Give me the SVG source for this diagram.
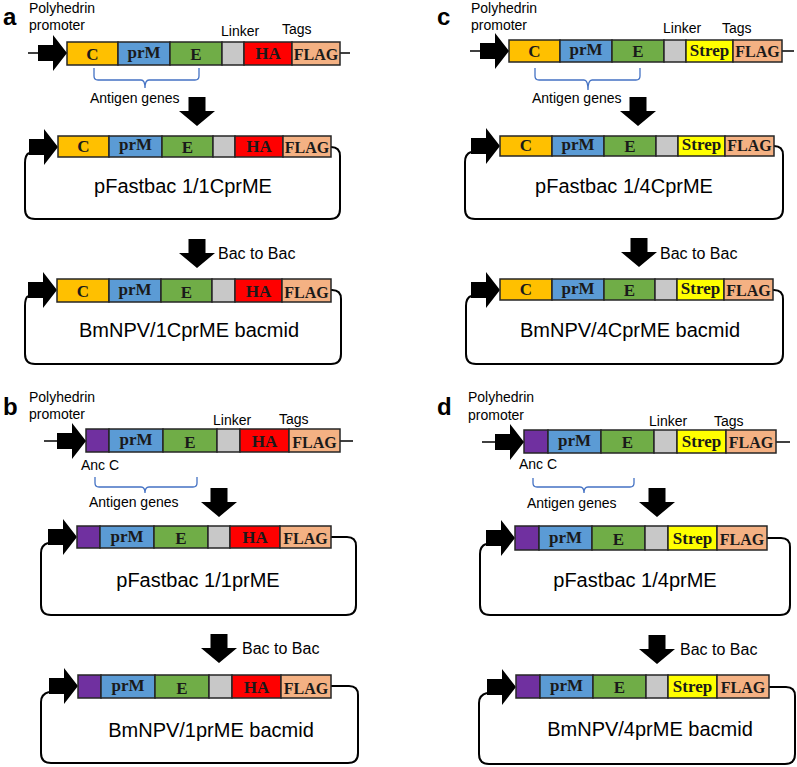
<svg xmlns="http://www.w3.org/2000/svg" xmlns:xlink="http://www.w3.org/1999/xlink" width="797" height="767" viewBox="0 0 797 767">
<style>
.c{fill:#FFC000}.pm{fill:#5B9BD5}.e{fill:#70AD47}.lk{fill:#C8C8C8}.ha{fill:#FF0000}.fl{fill:#F4B183}.st{fill:#FFFF00}.ac{fill:#7030A0}
.row rect{stroke:#262626;stroke-width:1.5}
.row text{font-family:"Liberation Serif","Times New Roman",serif;font-weight:bold;font-size:17px;fill:#1a1a1a;text-anchor:middle}
.row text.f{font-size:16px}
.lbl{font-family:"Liberation Sans",Arial,sans-serif;font-size:14px;fill:#000}
.big{font-size:20px;text-anchor:middle}
.pl{font-family:"Liberation Sans",Arial,sans-serif;font-weight:bold;font-size:24px;fill:#000}
.loop{fill:none;stroke:#000;stroke-width:2}
.brace{fill:none;stroke:#4472C4;stroke-width:1.3}
.dna{stroke:#000;stroke-width:1.5}
</style>
<defs>
<path id="prom" d="M-29 -8 H-14 V-18 L0 0 L-14 18 V8 H-29 Z" fill="#000"/>
<path id="down" d="M-8.5 -29 H8.5 V-15 H18 L0 0 L-18 -15 H-8.5 Z" fill="#000"/>
</defs>
<rect width="797" height="767" fill="#fff"/>

<!-- Panel labels -->
<g id="panel-labels">
<text class="pl" x="3" y="25">a</text>
<text class="pl" x="3" y="415">b</text>
<text class="pl" x="437" y="25">c</text>
<text class="pl" x="437" y="415">d</text>
</g>

<!-- Connectors -->
<g id="connectors">
<use xlink:href="#down" x="197" y="126"/>
<use xlink:href="#down" x="197" y="268"/>
<use xlink:href="#down" x="219" y="517"/>
<use xlink:href="#down" x="219" y="663"/>
<use xlink:href="#down" x="638" y="126"/>
<use xlink:href="#down" x="639" y="267"/>
<use xlink:href="#down" x="657" y="517"/>
<use xlink:href="#down" x="657" y="664"/>
<text class="lbl" x="218" y="259" style="font-size:16px">Bac to Bac</text>
<text class="lbl" x="242" y="654" style="font-size:16px">Bac to Bac</text>
<text class="lbl" x="660" y="259" style="font-size:16px">Bac to Bac</text>
<text class="lbl" x="680" y="655" style="font-size:16px">Bac to Bac</text>
</g>

<!-- ===== Panel a ===== -->
<g id="a-cassette">
<line class="dna" x1="28" y1="53" x2="350" y2="53"/>
<use xlink:href="#prom" x="67" y="53"/>
<g class="row">
<rect class="c" x="67" y="42" width="51" height="23"/><text x="92.5" y="60">C</text>
<rect class="pm" x="118" y="42" width="52" height="23"/><text x="144" y="58">prM</text>
<rect class="e" x="170" y="42" width="52" height="23"/><text x="196" y="60">E</text>
<rect class="lk" x="222" y="42" width="22" height="23"/>
<rect class="ha" x="244" y="42" width="48" height="23"/><text x="268" y="59">HA</text>
<rect class="fl" x="292" y="42" width="48" height="23"/><text class="f" x="316" y="60">FLAG</text>
</g>
<text class="lbl" x="29" y="13">Polyhedrin</text>
<text class="lbl" x="29" y="30">promoter</text>
<text class="lbl" x="221" y="36">Linker</text>
<text class="lbl" x="282" y="34">Tags</text>
<path class="brace" d="M94 68 V76 Q94 80 98 80 H141 Q145 80 145 88 Q145 80 149 80 H195 Q199 80 199 76 V68"/>
<text class="lbl" x="90" y="103">Antigen genes</text>
</g>
<g id="a-pfastbac">
<path class="loop" d="M29 153 Q25 155 25 163 V209 Q25 219 35 219 H330 Q340 219 340 209 V156 Q340 147 331 147"/>
<use xlink:href="#prom" x="58" y="147"/>
<g class="row">
<rect class="c" x="58" y="136" width="51" height="21"/><text x="83.5" y="152">C</text>
<rect class="pm" x="109" y="136" width="53" height="21"/><text x="135.5" y="150">prM</text>
<rect class="e" x="162" y="136" width="51" height="21"/><text x="187.5" y="153">E</text>
<rect class="lk" x="213" y="136" width="22" height="21"/>
<rect class="ha" x="235" y="136" width="48" height="21"/><text x="259" y="152">HA</text>
<rect class="fl" x="283" y="136" width="48" height="21"/><text class="f" x="307" y="153">FLAG</text>
</g>
<text class="lbl big" x="183" y="193">pFastbac 1/1CprME</text>
</g>
<g id="a-bacmid">
<path class="loop" d="M28 296 Q25 298 25 306 V354 Q25 364 35 364 H331 Q341 364 341 354 V299 Q341 290 332 290 H331"/>
<use xlink:href="#prom" x="57" y="290"/>
<g class="row">
<rect class="c" x="57" y="279" width="52" height="23"/><text x="83" y="297">C</text>
<rect class="pm" x="109" y="279" width="52" height="23"/><text x="135" y="295">prM</text>
<rect class="e" x="161" y="279" width="51" height="23"/><text x="186.5" y="298">E</text>
<rect class="lk" x="212" y="279" width="23" height="23"/>
<rect class="ha" x="235" y="279" width="47" height="23"/><text x="258.5" y="297">HA</text>
<rect class="fl" x="282" y="279" width="49" height="23"/><text class="f" x="306.5" y="298">FLAG</text>
</g>
<text class="lbl big" x="189" y="337">BmNPV/1CprME bacmid</text>
</g>

<!-- ===== Panel b ===== -->
<g id="b-cassette">
<line class="dna" x1="44" y1="441" x2="353" y2="441"/>
<use xlink:href="#prom" x="86" y="441"/>
<g class="row">
<rect class="ac" x="86" y="429" width="23" height="23"/>
<rect class="pm" x="109" y="429" width="54" height="23"/><text x="136" y="445">prM</text>
<rect class="e" x="163" y="429" width="54" height="23"/><text x="190" y="448">E</text>
<rect class="lk" x="217" y="429" width="23" height="23"/>
<rect class="ha" x="240" y="429" width="49" height="23"/><text x="264.5" y="447">HA</text>
<rect class="fl" x="289" y="429" width="51" height="23"/><text class="f" x="314.5" y="448">FLAG</text>
</g>
<text class="lbl" x="29" y="402">Polyhedrin</text>
<text class="lbl" x="29" y="419">promoter</text>
<text class="lbl" x="213" y="425">Linker</text>
<text class="lbl" x="279" y="424">Tags</text>
<text class="lbl" x="81" y="470">Anc C</text>
<path class="brace" d="M95 477 V483 Q95 487 99 487 H141 Q145 487 145 493 Q145 487 149 487 H193 Q197 487 197 483 V477"/>
<text class="lbl" x="89" y="507">Antigen genes</text>
</g>
<g id="b-pfastbac">
<path class="loop" d="M48 543 Q41 545 41 553 V605 Q41 615 51 615 H346 Q356 615 356 605 V546 Q356 537 347 537 H331"/>
<use xlink:href="#prom" x="77" y="537"/>
<g class="row">
<rect class="ac" x="77" y="526" width="23" height="22"/>
<rect class="pm" x="100" y="526" width="54" height="22"/><text x="127" y="542">prM</text>
<rect class="e" x="154" y="526" width="54" height="22"/><text x="181" y="544">E</text>
<rect class="lk" x="208" y="526" width="22" height="22"/>
<rect class="ha" x="230" y="526" width="50" height="22"/><text x="255" y="543">HA</text>
<rect class="fl" x="280" y="526" width="51" height="22"/><text class="f" x="305.5" y="544">FLAG</text>
</g>
<text class="lbl big" x="198" y="587">pFastbac 1/1prME</text>
</g>
<g id="b-bacmid">
<path class="loop" d="M49 692 Q41 694 41 702 V753 Q41 763 51 763 H348 Q358 763 358 753 V695 Q358 686 349 686 H331"/>
<use xlink:href="#prom" x="78" y="686"/>
<g class="row">
<rect class="ac" x="78" y="675" width="23" height="23"/>
<rect class="pm" x="101" y="675" width="54" height="23"/><text x="128" y="691">prM</text>
<rect class="e" x="155" y="675" width="54" height="23"/><text x="182" y="694">E</text>
<rect class="lk" x="209" y="675" width="23" height="23"/>
<rect class="ha" x="232" y="675" width="49" height="23"/><text x="256.5" y="693">HA</text>
<rect class="fl" x="281" y="675" width="50" height="23"/><text class="f" x="306" y="694">FLAG</text>
</g>
<text class="lbl big" x="211" y="737">BmNPV/1prME bacmid</text>
</g>

<!-- ===== Panel c ===== -->
<g id="c-cassette">
<line class="dna" x1="470" y1="51" x2="794" y2="51"/>
<use xlink:href="#prom" x="509" y="51"/>
<g class="row">
<rect class="c" x="509" y="40" width="51" height="22"/><text x="534.5" y="57">C</text>
<rect class="pm" x="560" y="40" width="52" height="22"/><text x="586" y="55">prM</text>
<rect class="e" x="612" y="40" width="52" height="22"/><text x="638" y="57">E</text>
<rect class="lk" x="664" y="40" width="22" height="22"/>
<rect class="st" x="686" y="40" width="47" height="22"/><text x="709.5" y="56">Strep</text>
<rect class="fl" x="733" y="40" width="49" height="22"/><text class="f" x="757.5" y="57">FLAG</text>
</g>
<text class="lbl" x="471" y="13">Polyhedrin</text>
<text class="lbl" x="471" y="30">promoter</text>
<text class="lbl" x="663" y="33">Linker</text>
<text class="lbl" x="722" y="33">Tags</text>
<path class="brace" d="M535 68 V76 Q535 80 539 80 H584 Q588 80 588 90 Q588 80 592 80 H636 Q640 80 640 76 V68"/>
<text class="lbl" x="532" y="103">Antigen genes</text>
</g>
<g id="c-pfastbac">
<path class="loop" d="M471 152 Q465 154 465 162 V209 Q465 219 475 219 H773 Q783 219 783 209 V155 Q783 146 774 146"/>
<use xlink:href="#prom" x="500" y="146"/>
<g class="row">
<rect class="c" x="500" y="136" width="52" height="20"/><text x="526" y="151">C</text>
<rect class="pm" x="552" y="136" width="52" height="20"/><text x="578" y="150">prM</text>
<rect class="e" x="604" y="136" width="52" height="20"/><text x="630" y="152">E</text>
<rect class="lk" x="656" y="136" width="22" height="20"/>
<rect class="st" x="678" y="136" width="47" height="20"/><text x="701.5" y="150">Strep</text>
<rect class="fl" x="725" y="136" width="49" height="20"/><text class="f" x="749.5" y="151">FLAG</text>
</g>
<text class="lbl big" x="624" y="193">pFastbac 1/4CprME</text>
</g>
<g id="c-bacmid">
<path class="loop" d="M471 296 Q466 298 466 306 V354 Q466 364 476 364 H773 Q783 364 783 354 V299 Q783 290 774 290 H773"/>
<use xlink:href="#prom" x="500" y="290"/>
<g class="row">
<rect class="c" x="500" y="279" width="52" height="21"/><text x="526" y="295">C</text>
<rect class="pm" x="552" y="279" width="52" height="21"/><text x="578" y="294">prM</text>
<rect class="e" x="604" y="279" width="51" height="21"/><text x="629.5" y="296">E</text>
<rect class="lk" x="655" y="279" width="22" height="21"/>
<rect class="st" x="677" y="279" width="47" height="21"/><text x="700.5" y="294">Strep</text>
<rect class="fl" x="724" y="279" width="49" height="21"/><text class="f" x="748.5" y="296">FLAG</text>
</g>
<text class="lbl big" x="630" y="337">BmNPV/4CprME bacmid</text>
</g>

<!-- ===== Panel d ===== -->
<g id="d-cassette">
<line class="dna" x1="482" y1="442" x2="790" y2="442"/>
<use xlink:href="#prom" x="524" y="442"/>
<g class="row">
<rect class="ac" x="524" y="430" width="24" height="23"/>
<rect class="pm" x="548" y="430" width="53" height="23"/><text x="574.5" y="446">prM</text>
<rect class="e" x="601" y="430" width="53" height="23"/><text x="627.5" y="448">E</text>
<rect class="lk" x="654" y="430" width="23" height="23"/>
<rect class="st" x="677" y="430" width="49" height="23"/><text x="701.5" y="447">Strep</text>
<rect class="fl" x="726" y="430" width="50" height="23"/><text class="f" x="751" y="448">FLAG</text>
</g>
<text class="lbl" x="468" y="402">Polyhedrin</text>
<text class="lbl" x="468" y="420">promoter</text>
<text class="lbl" x="649" y="426">Linker</text>
<text class="lbl" x="714" y="426">Tags</text>
<text class="lbl" x="519" y="469">Anc C</text>
<path class="brace" d="M533 478 V483 Q533 487 537 487 H580 Q584 487 584 493 Q584 487 588 487 H630 Q634 487 634 483 V478"/>
<text class="lbl" x="527" y="508">Antigen genes</text>
</g>
<g id="d-pfastbac">
<path class="loop" d="M486 544 Q480 546 480 554 V605 Q480 615 490 615 H780 Q790 615 790 605 V547 Q790 538 781 538 H767"/>
<use xlink:href="#prom" x="515" y="538"/>
<g class="row">
<rect class="ac" x="515" y="526" width="24" height="24"/>
<rect class="pm" x="539" y="526" width="53" height="24"/><text x="565.5" y="543">prM</text>
<rect class="e" x="592" y="526" width="53" height="24"/><text x="618.5" y="545">E</text>
<rect class="lk" x="645" y="526" width="23" height="24"/>
<rect class="st" x="668" y="526" width="49" height="24"/><text x="692.5" y="544">Strep</text>
<rect class="fl" x="717" y="526" width="50" height="24"/><text class="f" x="742" y="545">FLAG</text>
</g>
<text class="lbl big" x="635" y="587">pFastbac 1/4prME</text>
</g>
<g id="d-bacmid">
<path class="loop" d="M487 693 Q479 695 479 703 V754 Q479 764 489 764 H785 Q795 764 795 754 V696 Q795 687 786 687 H769"/>
<use xlink:href="#prom" x="516" y="687"/>
<g class="row">
<rect class="ac" x="516" y="675" width="24" height="23"/>
<rect class="pm" x="540" y="675" width="53" height="23"/><text x="566.5" y="691">prM</text>
<rect class="e" x="593" y="675" width="53" height="23"/><text x="619.5" y="693">E</text>
<rect class="lk" x="646" y="675" width="22" height="23"/>
<rect class="st" x="668" y="675" width="49" height="23"/><text x="692.5" y="692">Strep</text>
<rect class="fl" x="717" y="675" width="52" height="23"/><text class="f" x="743" y="693">FLAG</text>
</g>
<text class="lbl big" x="650" y="736">BmNPV/4prME bacmid</text>
</g>
</svg>
